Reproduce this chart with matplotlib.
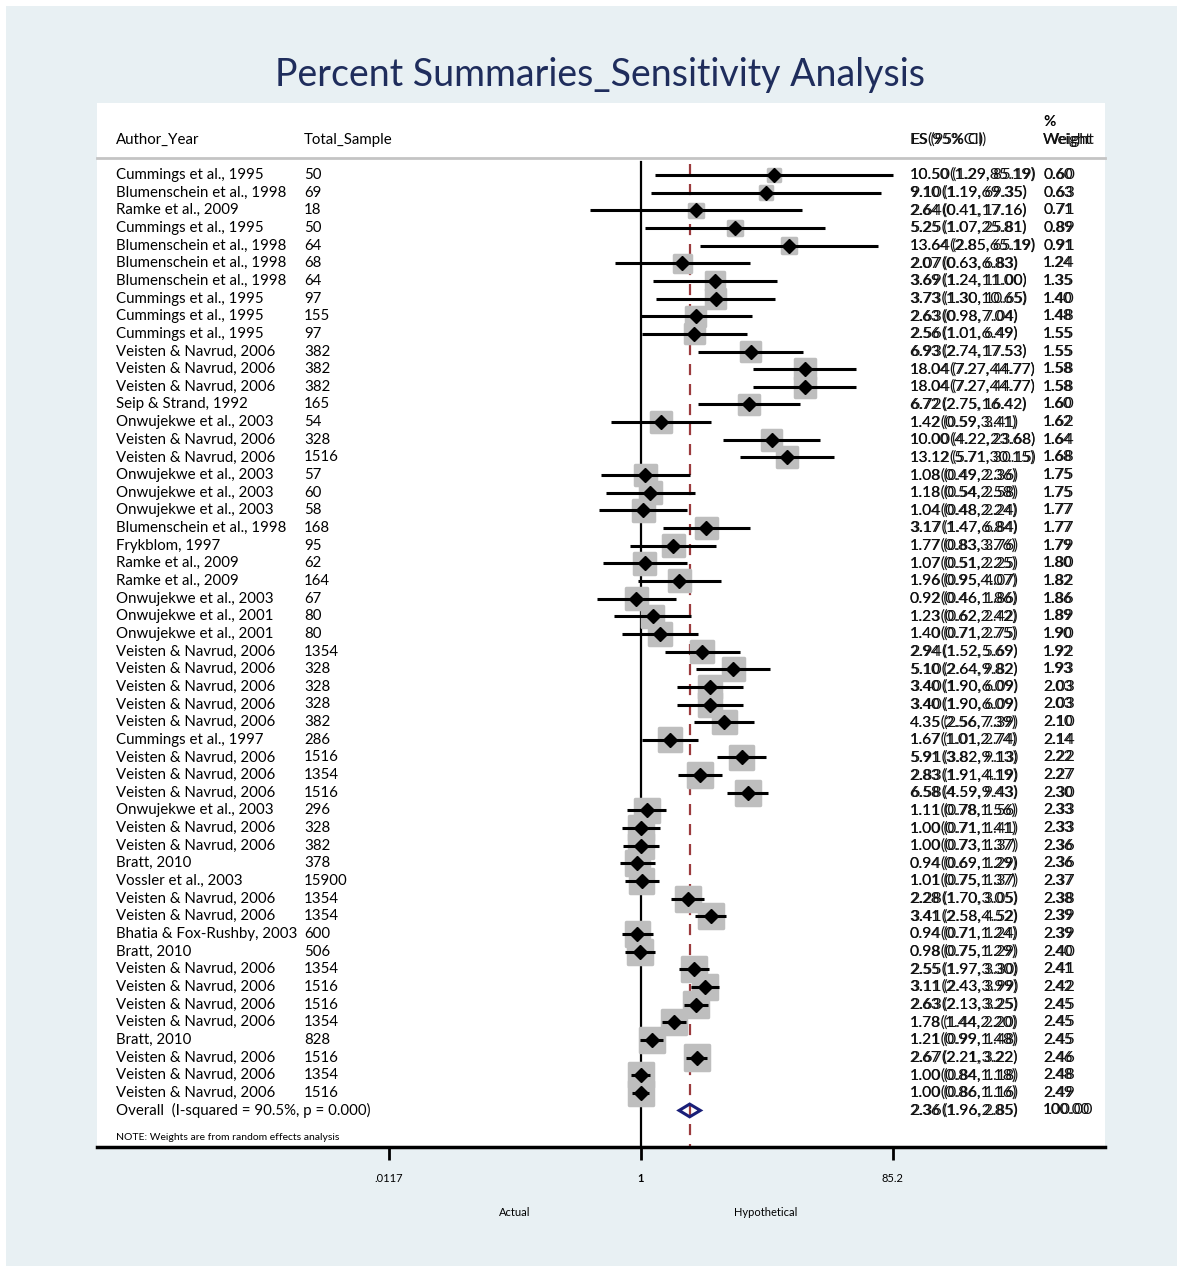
import matplotlib
matplotlib.use("Agg")
import matplotlib.pyplot as plt
import numpy as np
from matplotlib.patches import Rectangle, Polygon
from matplotlib.transforms import blended_transform_factory

plt.rcParams['font.family'] = ['Lato', 'DejaVu Sans']

W, H = 1177, 1266

authors = [
    "Cummings et al., 1995", "Blumenschein et al., 1998", "Ramke et al., 2009",
    "Cummings et al., 1995", "Blumenschein et al., 1998", "Blumenschein et al., 1998",
    "Blumenschein et al., 1998", "Cummings et al., 1995", "Cummings et al., 1995",
    "Cummings et al., 1995", "Veisten & Navrud, 2006", "Veisten & Navrud, 2006",
    "Veisten & Navrud, 2006", "Seip & Strand, 1992", "Onwujekwe et al., 2003",
    "Veisten & Navrud, 2006", "Veisten & Navrud, 2006", "Onwujekwe et al., 2003",
    "Onwujekwe et al., 2003", "Onwujekwe et al., 2003", "Blumenschein et al., 1998",
    "Frykblom, 1997", "Ramke et al., 2009", "Ramke et al., 2009",
    "Onwujekwe et al., 2003", "Onwujekwe et al., 2001", "Onwujekwe et al., 2001",
    "Veisten & Navrud, 2006", "Veisten & Navrud, 2006", "Veisten & Navrud, 2006",
    "Veisten & Navrud, 2006", "Veisten & Navrud, 2006", "Cummings et al., 1997",
    "Veisten & Navrud, 2006", "Veisten & Navrud, 2006", "Veisten & Navrud, 2006",
    "Onwujekwe et al., 2003", "Veisten & Navrud, 2006", "Veisten & Navrud, 2006",
    "Bratt, 2010", "Vossler et al., 2003", "Veisten & Navrud, 2006",
    "Veisten & Navrud, 2006", "Bhatia & Fox-Rushby, 2003", "Bratt, 2010",
    "Veisten & Navrud, 2006", "Veisten & Navrud, 2006", "Veisten & Navrud, 2006",
    "Veisten & Navrud, 2006", "Bratt, 2010", "Veisten & Navrud, 2006",
    "Veisten & Navrud, 2006", "Veisten & Navrud, 2006",
]
samples = [50, 69, 18, 50, 64, 68, 64, 97, 155, 97, 382, 382, 382, 165, 54, 328,
           1516, 57, 60, 58, 168, 95, 62, 164, 67, 80, 80, 1354, 328, 328, 328,
           382, 286, 1516, 1354, 1516, 296, 328, 382, 378, 15900, 1354, 1354,
           600, 506, 1354, 1516, 1516, 1354, 828, 1516, 1354, 1516]
es = [10.50, 9.10, 2.64, 5.25, 13.64, 2.07, 3.69, 3.73, 2.63, 2.56, 6.93, 18.04,
      18.04, 6.72, 1.42, 10.00, 13.12, 1.08, 1.18, 1.04, 3.17, 1.77, 1.07, 1.96,
      0.92, 1.23, 1.40, 2.94, 5.10, 3.40, 3.40, 4.35, 1.67, 5.91, 2.83, 6.58,
      1.11, 1.00, 1.00, 0.94, 1.01, 2.28, 3.41, 0.94, 0.98, 2.55, 3.11, 2.63,
      1.78, 1.21, 2.67, 1.00, 1.00]
lo = [1.29, 1.19, 0.41, 1.07, 2.85, 0.63, 1.24, 1.30, 0.98, 1.01, 2.74, 7.27,
      7.27, 2.75, 0.59, 4.22, 5.71, 0.49, 0.54, 0.48, 1.47, 0.83, 0.51, 0.95,
      0.46, 0.62, 0.71, 1.52, 2.64, 1.90, 1.90, 2.56, 1.01, 3.82, 1.91, 4.59,
      0.78, 0.71, 0.73, 0.69, 0.75, 1.70, 2.58, 0.71, 0.75, 1.97, 2.43, 2.13,
      1.44, 0.99, 2.21, 0.84, 0.86]
hi = [85.19, 69.35, 17.16, 25.81, 65.19, 6.83, 11.00, 10.65, 7.04, 6.49, 17.53,
      44.77, 44.77, 16.42, 3.41, 23.68, 30.15, 2.36, 2.58, 2.24, 6.84, 3.76,
      2.25, 4.07, 1.86, 2.42, 2.75, 5.69, 9.82, 6.09, 6.09, 7.39, 2.74, 9.13,
      4.19, 9.43, 1.56, 1.41, 1.37, 1.29, 1.37, 3.05, 4.52, 1.24, 1.29, 3.30,
      3.99, 3.25, 2.20, 1.48, 3.22, 1.18, 1.16]
weights = [0.60, 0.63, 0.71, 0.89, 0.91, 1.24, 1.35, 1.40, 1.48, 1.55, 1.55, 1.58,
           1.58, 1.60, 1.62, 1.64, 1.68, 1.75, 1.75, 1.77, 1.77, 1.79, 1.80, 1.82,
           1.86, 1.89, 1.90, 1.92, 1.93, 2.03, 2.03, 2.10, 2.14, 2.22, 2.27, 2.30,
           2.33, 2.33, 2.36, 2.36, 2.37, 2.38, 2.39, 2.39, 2.40, 2.41, 2.42, 2.45,
           2.45, 2.45, 2.46, 2.48, 2.49]
overall_es, overall_lo, overall_hi = 2.36, 1.96, 2.85
overall_label = "Overall  (I-squared = 90.5%, p = 0.000)"
tick_vals = [0.0117, 1, 85.2]
tick_labels = [".0117", "1", "85.2"]

n = len(es)
rows = np.arange(n)
overall_row = n

fig = plt.figure(figsize=(W / 100, H / 100), dpi=100)
fig.patch.set_facecolor("white")
fig.patches.append(Rectangle((6 / W, 0), 1 - 6 / W, 1 - 6 / H,
                             transform=fig.transFigure, facecolor="#e8f0f3",
                             edgecolor="none", zorder=-10))

ax = fig.add_axes([97 / W, 1 - 1147 / H, (1105 - 97) / W, (1147 - 103) / H])
ax.set_facecolor("white")
ax.set_xscale("log")
ax.set_xlim(10 ** ((97 - 641) / 130.5), 10 ** ((1105 - 641) / 130.5))
row_px = 17.65
ax.set_ylim((1147 - 175) / row_px, (103 - 175) / row_px)

for s in ["top", "left", "right"]:
    ax.spines[s].set_visible(False)
ax.spines["bottom"].set_linewidth(2.5)
ax.set_yticks([])
ax.set_xticks(tick_vals)
ax.set_xticklabels(tick_labels, fontsize=8)
ax.xaxis.get_ticklabels()[1].set_fontweight("bold")
ax.minorticks_off()
ax.tick_params(axis="x", direction="out", length=9.5, width=2, pad=9)

# reference lines: null effect and pooled estimate
ax.plot([1, 1], [-0.75, ax.get_ylim()[0]], color="black", lw=1.6, zorder=1)
ax.plot([overall_es, overall_es], [-0.6, ax.get_ylim()[0]], color="#9b3a3d",
        lw=1.6, dashes=(5, 4), zorder=1)

# weight boxes
side_px = 15.5 * np.sqrt(weights)
ax.scatter(es, rows, marker="s", s=(side_px * 0.72) ** 2, color="#bebebe",
           edgecolors="#bebebe", linewidths=2.5, joinstyle="round", zorder=2)

# confidence intervals and point estimates
ax.hlines(rows, lo, hi, color="black", lw=2.2, zorder=3)
ax.plot(es, rows, linestyle="none", marker="D", ms=7, color="black", zorder=4)

# pooled diamond
h = 0.36
ax.add_patch(Polygon([(overall_lo, overall_row), (overall_es, overall_row - h),
                      (overall_hi, overall_row), (overall_es, overall_row + h)],
                     closed=True, facecolor="none", edgecolor="#1a1f78",
                     lw=2.2, zorder=5))

tr = blended_transform_factory(fig.transFigure, ax.transData)


def px(x):
    return x / W


def double_text(x, y, s, size):
    # text drawn twice with slightly different spacing
    ax.text(px(x), y, s, transform=tr, fontsize=size, va="center", ha="left",
            clip_on=False, color="#111111")
    ax.text(px(x), y, s.replace(" ", ""), transform=tr, fontsize=size * 1.07,
            va="center", ha="left", clip_on=False, color="#111111")


fs = 10.8
header_y = (140 - 175) / row_px
ax.text(px(116), header_y, "Author_Year", transform=tr, fontsize=fs, va="center")
ax.text(px(304), header_y, "Total_Sample", transform=tr, fontsize=fs, va="center")
double_text(910, header_y, "ES (95% CI)", fs)
ax.text(px(1043), (122 - 175) / row_px, "%", transform=tr, fontsize=fs,
        va="center", fontweight="bold")
double_text(1043, header_y, "Weight", fs)
ax.plot([0, 1], [(158 - 175) / row_px] * 2, transform=blended_transform_factory(
    ax.transAxes, ax.transData), color="#c4c4c4", lw=2, clip_on=False)

for i in range(n):
    ax.text(px(116), i, authors[i], transform=tr, fontsize=fs, va="center")
    ax.text(px(304), i, str(samples[i]), transform=tr, fontsize=fs, va="center")
    double_text(910, i, f"{es[i]:.2f} ({lo[i]:.2f}, {hi[i]:.2f})", fs)
    double_text(1043, i, f"{weights[i]:.2f}", fs)

ax.text(px(116), overall_row, overall_label, transform=tr, fontsize=fs, va="center")
double_text(910, overall_row,
            f"{overall_es:.2f} ({overall_lo:.2f}, {overall_hi:.2f})", fs)
double_text(1043, overall_row, "100.00", fs)
ax.text(px(116), (1137 - 175) / row_px,
        "NOTE: Weights are from random effects analysis", transform=tr,
        fontsize=7.5, va="center")

fig.text(px(515), 1 - 1212 / H, "Actual", fontsize=8, ha="center", va="center")
fig.text(px(766), 1 - 1212 / H, "Hypothetical", fontsize=8, ha="center", va="center")
fig.text(px(600), 1 - 75 / H, "Percent Summaries_Sensitivity Analysis",
         fontsize=27, color="#1f2d5c", ha="center", va="center")

fig.savefig("out.png", dpi=100)
